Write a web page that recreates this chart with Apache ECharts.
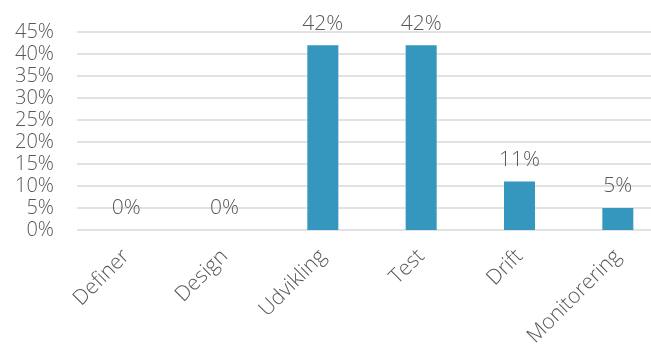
<!DOCTYPE html>
<html>
<head>
<meta charset="utf-8">
<script src="https://cdn.jsdelivr.net/npm/echarts@6/dist/echarts.min.js"></script>
<style>
  html, body { margin: 0; padding: 0; background: #fff; }
  #chart { width: 651px; height: 348px; }
</style>
</head>
<body>
<div id="chart"></div>
<script>
// Share of responses per phase (percent)
const categories = ['Definer', 'Design', 'Udvikling', 'Test', 'Drift', 'Monitorering'];
const values = [0, 0, 42, 42, 11, 5];
const yTicks = { min: 0, max: 45, interval: 5 };

const textColor = '#595959';
const fontFamily = '"Open Sans", "Noto Sans", sans-serif';

const chart = echarts.init(document.getElementById('chart'));
chart.setOption({
  animation: false,
  grid: [
    // bars: the category band runs slightly past the right edge
    { left: 77, width: 590, top: 32, bottom: 118, containLabel: false, outerBoundsMode: 'none' },
    // gridlines, spanning to the right edge
    { left: 77, right: 0, top: 32, bottom: 118, containLabel: false, outerBoundsMode: 'none', z: 0 }
  ],
  xAxis: [{
    type: 'category',
    gridIndex: 0,
    data: categories,
    axisLine: { show: false },
    axisTick: { show: false },
    axisLabel: {
      rotate: 45,
      margin: 23,
      color: textColor,
      fontSize: 21,
      fontWeight: 300,
      fontFamily: fontFamily,
      interval: 0
    }
  }, {
    type: 'value',
    gridIndex: 1,
    show: false
  }],
  yAxis: [{
    type: 'value',
    gridIndex: 0,
    min: yTicks.min,
    max: yTicks.max,
    interval: yTicks.interval,
    axisLine: { show: false },
    axisTick: { show: false },
    axisLabel: {
      margin: 23,
      color: textColor,
      fontSize: 20,
      fontWeight: 300,
      fontFamily: fontFamily,
      formatter: v => v + '%'
    },
    splitLine: { show: false }
  }, {
    type: 'value',
    gridIndex: 1,
    min: yTicks.min,
    max: yTicks.max,
    interval: yTicks.interval,
    axisLine: { show: false },
    axisTick: { show: false },
    axisLabel: { show: false },
    splitLine: { lineStyle: { color: '#d9d9d9', width: 1.5 } },
    z: 0
  }],
  series: [{
    type: 'bar',
    xAxisIndex: 0,
    yAxisIndex: 0,
    data: values,
    barWidth: 31,
    z: 5,
    itemStyle: { color: '#3597bd' },
    label: {
      show: true,
      position: 'top',
      distance: 11,
      color: textColor,
      fontSize: 21,
      fontWeight: 300,
      fontFamily: fontFamily,
      formatter: p => p.value + '%'
    }
  }]
});
</script>
</body>
</html>
